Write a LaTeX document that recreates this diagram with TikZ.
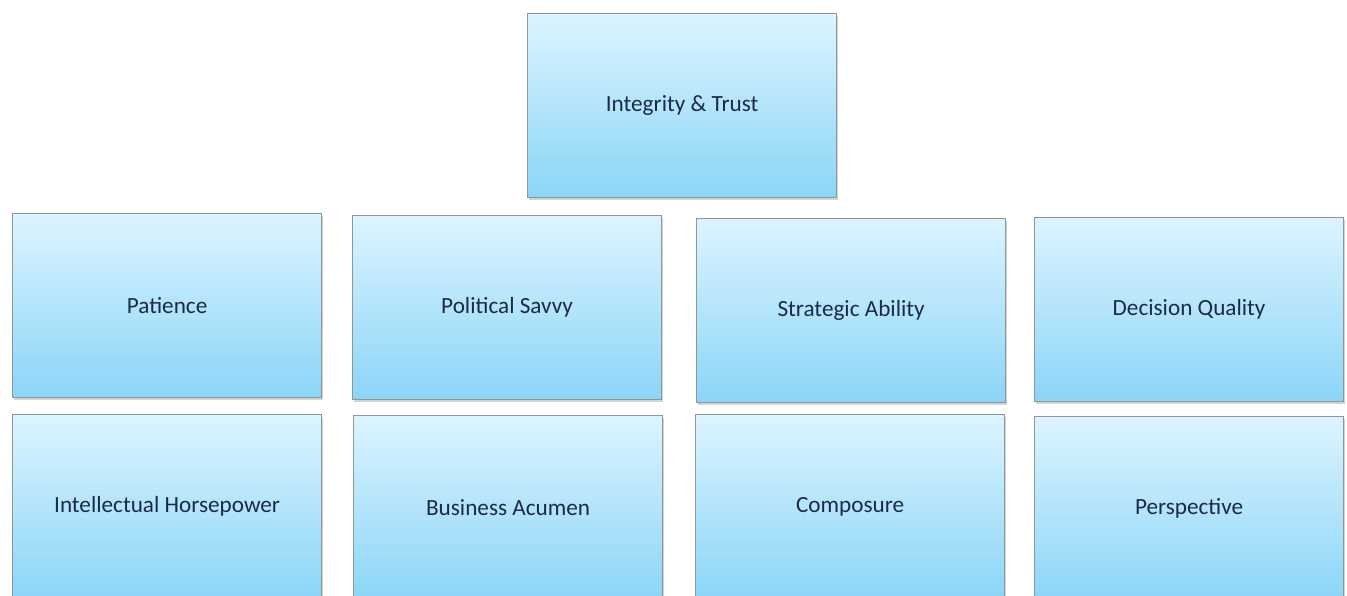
\documentclass[tikz,border=0pt]{standalone}
\usepackage{fontspec}
\setmainfont{Carlito}
\usetikzlibrary{positioning,shadows}

\definecolor{traittop}{HTML}{DCF4FF}
\definecolor{traitbot}{HTML}{8BD5F7}
\definecolor{traitline}{HTML}{8A9899}
\definecolor{traittext}{HTML}{1C2A48}

\begin{document}
\begin{tikzpicture}[x=0.5pt,y=-0.5pt,
    trait/.style={draw=traitline, line width=0.6pt,
      top color=traittop, bottom color=traitbot,
      minimum width=154.5pt, minimum height=92pt,
      anchor=north west, inner sep=0pt,
      font=\fontsize{11.6}{13}\selectfont, text=traittext,
      drop shadow={shadow xshift=0.6pt, shadow yshift=-1pt, opacity=0.35}}]
      \useasboundingbox (0,0) rectangle (1347,595);

      \node[trait] (integrity) at (527,13)  {Integrity \& Trust};

      \node[trait] (patience)  at (12,213)   {Patience};
      \node[trait] (savvy)     at (352,215)  {Political Savvy};
      \node[trait] (strategic) at (696,218)  {Strategic Ability};
      \node[trait] (decision)  at (1034,217) {Decision Quality};

      \node[trait] (intellect)   at (12,414)   {Intellectual Horsepower};
      \node[trait] (acumen)      at (353,415)  {Business Acumen};
      \node[trait] (composure)   at (695,414)  {Composure};
      \node[trait] (perspective) at (1034,416) {Perspective};
    \end{tikzpicture}
\end{document}
